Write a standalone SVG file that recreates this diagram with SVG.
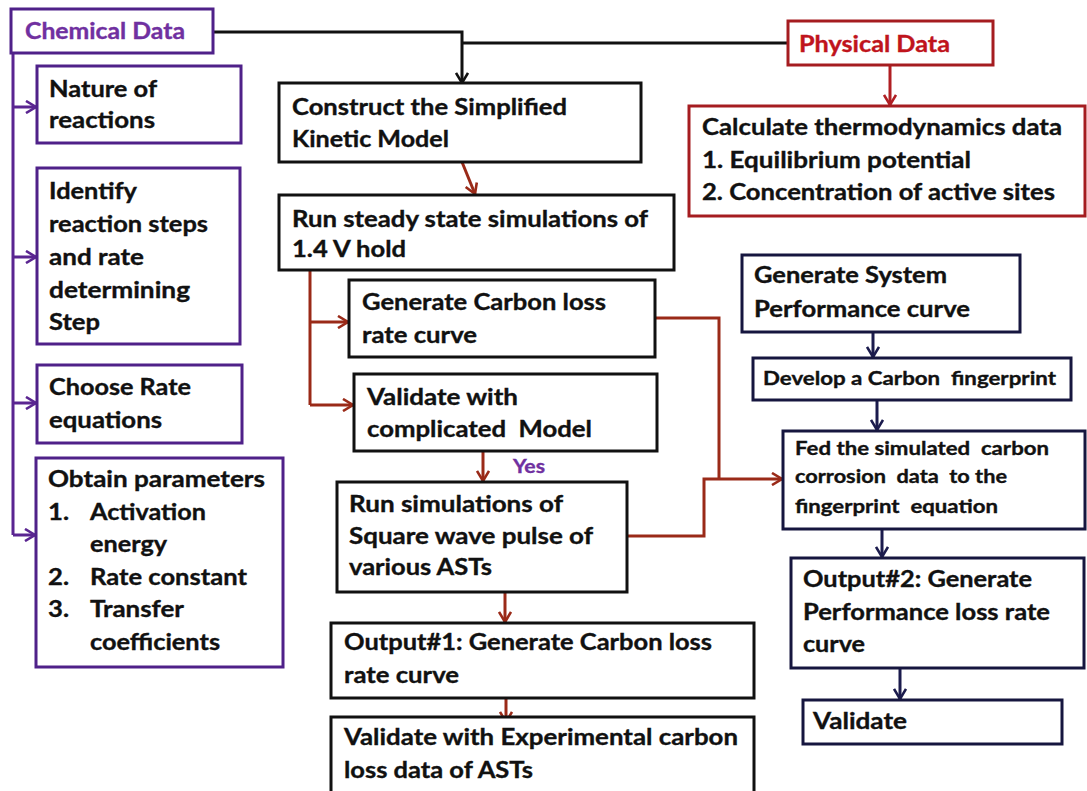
<svg xmlns="http://www.w3.org/2000/svg" width="1087" height="791" viewBox="0 0 1087 791">
  <style>
    text { font-family: Lato, "Open Sans", "Liberation Sans", sans-serif; font-weight: bold; font-size: 22px; fill: #111; stroke: #111; stroke-width: 0.35px; white-space: pre; }
    text.s { font-size: 18.5px; }
    text.yes { font-size: 18px; fill: #7030a0; stroke: #7030a0; }
    text.chem { fill: #7030a0; stroke: #7030a0; }
    text.phys { fill: #c0141c; stroke: #c0141c; }
    rect { fill: #fff; stroke-width: 3; }
    .pu { stroke: #4f2189; }
    .rd { stroke: #a51c20; }
    .bk { stroke: #111; }
    .nv { stroke: #16163f; }
    .ln { fill: none; stroke-width: 3; }
    .lb { stroke: #111; }
    .lp { stroke: #5a2591; }
    .lr { stroke: #9a2a18; }
    .lr2 { stroke: #b01e23; }
    .ln2 { stroke: #1b1b4d; }
  </style>
  <defs>
    <marker id="ah-black" viewBox="0 0 14 14" refX="11" refY="7" markerWidth="14" markerHeight="14" markerUnits="userSpaceOnUse" orient="auto">
      <path d="M1,1 L11,7 L1,13" fill="none" stroke="#111" stroke-width="2.6"/>
    </marker>
    <marker id="ah-purple" viewBox="0 0 14 14" refX="11" refY="7" markerWidth="14" markerHeight="14" markerUnits="userSpaceOnUse" orient="auto">
      <path d="M1,1 L11,7 L1,13" fill="none" stroke="#5a2591" stroke-width="2.6"/>
    </marker>
    <marker id="ah-brown" viewBox="0 0 14 14" refX="11" refY="7" markerWidth="14" markerHeight="14" markerUnits="userSpaceOnUse" orient="auto">
      <path d="M1,1 L11,7 L1,13" fill="none" stroke="#9a2a18" stroke-width="2.6"/>
    </marker>
    <marker id="ah-red" viewBox="0 0 14 14" refX="11" refY="7" markerWidth="14" markerHeight="14" markerUnits="userSpaceOnUse" orient="auto">
      <path d="M1,1 L11,7 L1,13" fill="none" stroke="#b01e23" stroke-width="2.6"/>
    </marker>
    <marker id="ah-navy" viewBox="0 0 14 14" refX="11" refY="7" markerWidth="14" markerHeight="14" markerUnits="userSpaceOnUse" orient="auto">
      <path d="M1,1 L11,7 L1,13" fill="none" stroke="#1b1b4d" stroke-width="2.6"/>
    </marker>
  </defs>

  <rect x="0" y="0" width="1087" height="791" style="fill:#fff;stroke:none"/>

  <!-- connectors -->
  <g id="connectors">
    <!-- data sources -->
    <path class="ln lb" d="M213,32 H462 V83" marker-end="url(#ah-black)"/>
    <path class="ln lb" d="M462,43 H788"/>
    <path class="ln lr2" d="M890,65 V105" marker-end="url(#ah-red)"/>
    <!-- chemical data bus -->
    <path class="ln lp" d="M13,53 V535"/>
    <path class="ln lp" d="M13,107 H36" marker-end="url(#ah-purple)"/>
    <path class="ln lp" d="M13,257 H36" marker-end="url(#ah-purple)"/>
    <path class="ln lp" d="M13,403 H36" marker-end="url(#ah-purple)"/>
    <path class="ln lp" d="M13,535 H35" marker-end="url(#ah-purple)"/>
    <!-- simulation chain -->
    <path class="ln lr" d="M462,162 L475,194" marker-end="url(#ah-brown)"/>
    <path class="ln lr" d="M310,270 V405"/>
    <path class="ln lr" d="M310,322 H348" marker-end="url(#ah-brown)"/>
    <path class="ln lr" d="M310,405 H353" marker-end="url(#ah-brown)"/>
    <path class="ln lr" d="M483,452 V481" marker-end="url(#ah-brown)"/>
    <path class="ln lr" d="M505,592 V622" marker-end="url(#ah-brown)"/>
    <path class="ln lr" d="M506,698 V722" marker-end="url(#ah-brown)"/>
    <path class="ln lr" d="M655,318 H719 V479"/>
    <path class="ln lr" d="M627,536 H704 V479 H782" marker-end="url(#ah-brown)"/>
    <!-- fingerprint chain -->
    <path class="ln ln2" d="M873,332 V357" marker-end="url(#ah-navy)"/>
    <path class="ln ln2" d="M877,400 V430" marker-end="url(#ah-navy)"/>
    <path class="ln ln2" d="M882,529 V557" marker-end="url(#ah-navy)"/>
    <path class="ln ln2" d="M900,668 V699" marker-end="url(#ah-navy)"/>
  </g>

  <g id="chemical-data">
    <rect class="pu" x="11" y="9" width="202" height="44"/>
    <text class="chem" x="25" y="39" textLength="160" lengthAdjust="spacingAndGlyphs">Chemical Data</text>
  </g>

  <g id="physical-data">
    <rect class="rd" x="788" y="21" width="205" height="44"/>
    <text class="phys" x="799" y="52" textLength="151" lengthAdjust="spacingAndGlyphs">Physical Data</text>
  </g>

  <g id="nature-of-reactions">
    <rect class="pu" x="37" y="66" width="204" height="77"/>
    <text x="49" y="97" textLength="108" lengthAdjust="spacingAndGlyphs">Nature of</text>
    <text x="49" y="128" textLength="106" lengthAdjust="spacingAndGlyphs">reactions</text>
  </g>

  <g id="identify-steps">
    <rect class="pu" x="37" y="168" width="203" height="176"/>
    <text x="49" y="199" textLength="88" lengthAdjust="spacingAndGlyphs">Identify</text>
    <text x="49" y="232" textLength="159" lengthAdjust="spacingAndGlyphs">reaction steps</text>
    <text x="49" y="265" textLength="95" lengthAdjust="spacingAndGlyphs">and rate</text>
    <text x="49" y="298" textLength="141" lengthAdjust="spacingAndGlyphs">determining</text>
    <text x="49" y="330" textLength="51" lengthAdjust="spacingAndGlyphs">Step</text>
  </g>

  <g id="choose-rate-equations">
    <rect class="pu" x="37" y="365" width="205" height="78"/>
    <text x="49" y="395" textLength="142" lengthAdjust="spacingAndGlyphs">Choose Rate</text>
    <text x="49" y="428" textLength="113" lengthAdjust="spacingAndGlyphs">equations</text>
  </g>

  <g id="obtain-parameters">
    <rect class="pu" x="36" y="458" width="247" height="209"/>
    <text x="48" y="487" textLength="217" lengthAdjust="spacingAndGlyphs">Obtain parameters</text>
    <text x="48" y="520" textLength="21" lengthAdjust="spacingAndGlyphs">1.</text>
    <text x="90" y="520" textLength="116" lengthAdjust="spacingAndGlyphs">Activation</text>
    <text x="90" y="552" textLength="77" lengthAdjust="spacingAndGlyphs">energy</text>
    <text x="48" y="585" textLength="21" lengthAdjust="spacingAndGlyphs">2.</text>
    <text x="90" y="585" textLength="157" lengthAdjust="spacingAndGlyphs">Rate constant</text>
    <text x="48" y="617" textLength="21" lengthAdjust="spacingAndGlyphs">3.</text>
    <text x="90" y="617" textLength="94" lengthAdjust="spacingAndGlyphs">Transfer</text>
    <text x="90" y="650" textLength="130" lengthAdjust="spacingAndGlyphs">coefficients</text>
  </g>

  <g id="construct-model">
    <rect class="bk" x="279" y="83" width="362" height="79"/>
    <text x="292" y="115" textLength="275" lengthAdjust="spacingAndGlyphs">Construct the Simplified</text>
    <text x="292" y="147" textLength="157" lengthAdjust="spacingAndGlyphs">Kinetic Model</text>
  </g>

  <g id="steady-state">
    <rect class="bk" x="279" y="195" width="395" height="75"/>
    <text x="292" y="227" textLength="356" lengthAdjust="spacingAndGlyphs">Run steady state simulations of</text>
    <text x="292" y="257" textLength="114" lengthAdjust="spacingAndGlyphs">1.4 V hold</text>
  </g>

  <g id="carbon-loss-curve">
    <rect class="bk" x="349" y="280" width="306" height="77"/>
    <text x="362" y="310" textLength="244" lengthAdjust="spacingAndGlyphs">Generate Carbon loss</text>
    <text x="362" y="343" textLength="115" lengthAdjust="spacingAndGlyphs">rate curve</text>
  </g>

  <g id="validate-complicated">
    <rect class="bk" x="354" y="374" width="303" height="77"/>
    <text x="367" y="405" textLength="151" lengthAdjust="spacingAndGlyphs">Validate with</text>
    <text x="367" y="437" textLength="225" lengthAdjust="spacingAndGlyphs">complicated  Model</text>
  </g>

  <text class="yes" x="513" y="473" textLength="32" lengthAdjust="spacingAndGlyphs">Yes</text>

  <g id="square-wave">
    <rect class="bk" x="337" y="482" width="290" height="110"/>
    <text x="349" y="512" textLength="214" lengthAdjust="spacingAndGlyphs">Run simulations of</text>
    <text x="349" y="544" textLength="244" lengthAdjust="spacingAndGlyphs">Square wave pulse of</text>
    <text x="349" y="575" textLength="143" lengthAdjust="spacingAndGlyphs">various ASTs</text>
  </g>

  <g id="output-1">
    <rect class="bk" x="331" y="623" width="423" height="75"/>
    <text x="344" y="650" textLength="368" lengthAdjust="spacingAndGlyphs">Output#1: Generate Carbon loss</text>
    <text x="344" y="683" textLength="115" lengthAdjust="spacingAndGlyphs">rate curve</text>
  </g>

  <g id="validate-experimental">
    <rect class="bk" x="331" y="717" width="423" height="80"/>
    <text x="344" y="745" textLength="394" lengthAdjust="spacingAndGlyphs">Validate with Experimental carbon</text>
    <text x="344" y="778" textLength="189" lengthAdjust="spacingAndGlyphs">loss data of ASTs</text>
  </g>

  <g id="thermodynamics">
    <rect class="rd" x="689" y="106" width="396" height="110"/>
    <text x="702" y="135" textLength="360" lengthAdjust="spacingAndGlyphs">Calculate thermodynamics data</text>
    <text x="702" y="168" textLength="269" lengthAdjust="spacingAndGlyphs">1. Equilibrium potential</text>
    <text x="702" y="200" textLength="353" lengthAdjust="spacingAndGlyphs">2. Concentration of active sites</text>
  </g>

  <g id="system-performance">
    <rect class="nv" x="742" y="255" width="278" height="77"/>
    <text x="754" y="283" textLength="193" lengthAdjust="spacingAndGlyphs">Generate System</text>
    <text x="754" y="317" textLength="216" lengthAdjust="spacingAndGlyphs">Performance curve</text>
  </g>

  <g id="carbon-fingerprint">
    <rect class="nv" x="753" y="358" width="318" height="42"/>
    <text class="s" x="763" y="385" textLength="293" lengthAdjust="spacingAndGlyphs">Develop a Carbon  fingerprint</text>
  </g>

  <g id="fingerprint-equation">
    <rect class="nv" x="783" y="431" width="302" height="98"/>
    <text class="s" x="795" y="455" textLength="254" lengthAdjust="spacingAndGlyphs">Fed the simulated  carbon</text>
    <text class="s" x="795" y="483" textLength="212" lengthAdjust="spacingAndGlyphs">corrosion  data  to the</text>
    <text class="s" x="795" y="513" textLength="203" lengthAdjust="spacingAndGlyphs">fingerprint  equation</text>
  </g>

  <g id="output-2">
    <rect class="nv" x="791" y="558" width="293" height="110"/>
    <text x="803" y="587" textLength="229" lengthAdjust="spacingAndGlyphs">Output#2: Generate</text>
    <text x="803" y="620" textLength="247" lengthAdjust="spacingAndGlyphs">Performance loss rate</text>
    <text x="803" y="652" textLength="62" lengthAdjust="spacingAndGlyphs">curve</text>
  </g>

  <g id="validate-performance">
    <rect class="nv" x="803" y="700" width="259" height="44"/>
    <text x="813" y="729" textLength="94" lengthAdjust="spacingAndGlyphs">Validate</text>
  </g>
</svg>
